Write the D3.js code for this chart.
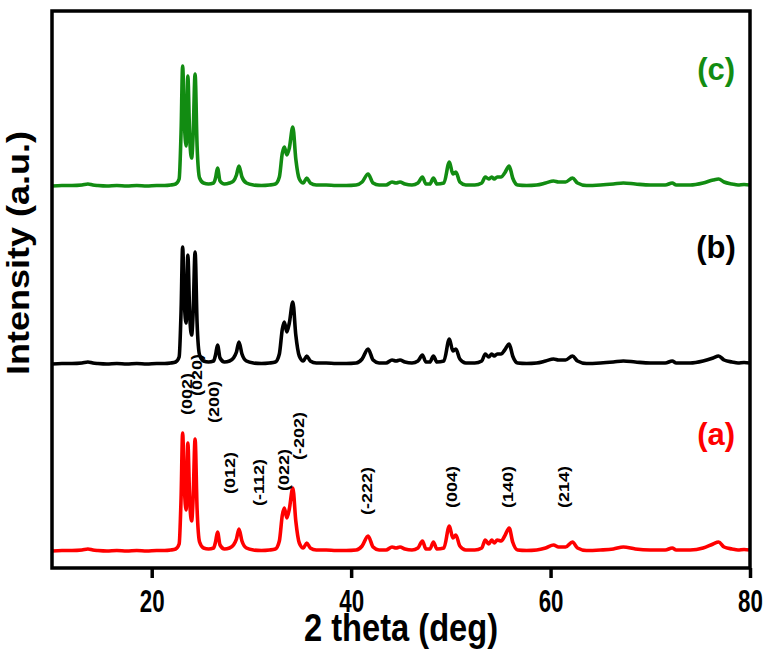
<!DOCTYPE html>
<html>
<head>
<meta charset="utf-8">
<script src="https://cdn.jsdelivr.net/npm/d3@7"></script>
<style>
  body { margin: 0; background: #fff; }
  text { font-family: "Liberation Sans", Arial, sans-serif; font-weight: bold; }
</style>
</head>
<body>
<div id="chart"></div>
<script>
// 2 theta positions (deg), shared by the three patterns
var twoTheta = [10, 11, 12, 13, 13.6, 14.1, 14.6, 15.5, 16.5, 17.5,
  18.5, 19.5, 20.5, 21.3, 21.9, 22.4, 22.75, 22.95, 23.1, 23.28,
  23.45, 23.62, 23.82, 24.0, 24.15, 24.35, 24.55, 24.8, 25.2, 25.7,
  26.2, 26.4, 26.6, 26.85, 27.3, 27.8, 28.2, 28.5, 28.75, 29.05,
  29.5, 30.2, 31, 31.8, 32.4, 32.8, 33.1, 33.3, 33.55, 33.8,
  34.15, 34.45, 34.8, 35.2, 35.55, 35.9, 36.5, 37.5, 38.5, 39.5,
  40.5, 41.1, 41.7, 42.2, 42.8, 43.5, 44.1, 44.5, 44.9, 45.4,
  46.1, 46.7, 47.15, 47.5, 47.9, 48.25, 48.6, 49.3, 49.85, 50.2,
  50.5, 50.9, 51.5, 52.4, 53.1, 53.45, 53.8, 54.1, 54.35, 54.65,
  55.05, 55.4, 55.85, 56.2, 56.7, 57.6, 58.6, 59.5, 60.3, 60.8,
  61.5, 62.2, 62.7, 63.6, 65, 66.3, 67.3, 68.5, 70, 71.5,
  72.2, 72.6, 74, 75.3, 76.3, 76.85, 77.4, 78.2, 78.8, 79.4, 80];

// intensities (a.u.) above each pattern's own baseline
var intensityA = [0, 0.5, 0.5, 1, 2, 1, 0.5, 0, 0.5, 0,
  0.5, 0, 0.5, 0.5, 1, 2, 7, 55, 118, 62,
  41, 108, 48, 30, 52, 112, 42, 9, 3, 2,
  3, 9, 19, 6, 2, 3, 6, 12, 22, 10,
  3, 1, 0.5, 1, 2, 10, 36, 43, 33, 42,
  63, 30, 8, 3, 8, 3, 1, 1, 0.5, 0.5,
  1, 5, 15, 4, 1, 1, 4, 3, 4, 2,
  1, 3, 10, 2, 2, 9, 2, 3, 25, 13,
  16, 5, 1, 1, 3, 11, 7, 11, 8, 11,
  10, 15, 23, 9, 1, 0.5, 1, 3, 6, 4,
  4, 9, 3, 0.5, 1, 2, 4, 2, 1, 1,
  3, 1, 1, 3, 7, 9, 4, 2, 1, 1.5, 1];

var intensityB = [0, 0.5, 0.5, 1, 2, 1, 0.5, 0, 0.5, 0,
  0.5, 0, 0.5, 0.5, 1, 2, 7, 55, 117, 60,
  41, 109, 47, 29, 50, 112, 41, 9, 3, 2,
  3, 9, 19, 6, 2, 3, 6, 12, 22, 10,
  3, 1, 0.5, 1, 2, 10, 35, 42, 32, 41,
  62, 29, 8, 3, 8, 3, 1, 1, 0.5, 0.5,
  1, 5, 15, 4, 1, 1, 4, 3, 4, 2,
  1, 3, 9, 2, 2, 8, 2, 3, 25, 13,
  15, 5, 1, 1, 3, 10, 7, 10, 8, 10,
  10, 14, 20, 8, 1, 0.5, 1, 3, 5, 4,
  4, 8, 3, 0.5, 1, 2, 3, 2, 1, 1,
  3, 1, 1, 3, 6, 8, 4, 2, 1, 1.5, 1];

var intensityC = [0, 0.5, 0.5, 1, 2, 1, 0.5, 0, 0.5, 0,
  0.5, 0, 0.5, 0.5, 1, 2, 7, 56, 120, 62,
  40, 110, 46, 28, 50, 112, 40, 8, 3, 2,
  3, 8, 18, 5, 2, 3, 5, 11, 20, 9,
  3, 1, 0.5, 1, 2, 9, 33, 39, 31, 38,
  59, 27, 7, 3, 8, 3, 1, 1, 0.5, 0.5,
  1, 4, 12, 3, 1, 1, 4, 3, 4, 2,
  1, 3, 9, 2, 2, 8, 2, 3, 24, 12,
  14, 4, 1, 1, 3, 9, 7, 9, 7, 9,
  9, 13, 20, 8, 1, 0.5, 1, 3, 5, 4,
  4, 8, 3, 0.5, 1, 2, 3, 2, 1, 1,
  3, 1, 1, 3, 6, 7, 4, 2, 1, 1.5, 1];

var seriesNames = ["(a)", "(b)", "(c)"];
var seriesOffsets = [17, 204, 382];   // vertical stacking offset (a.u.)
var seriesColors = ["#ff0000", "#000000", "#128c12"];

// Miller indices marked on pattern (a)
var hklLabels = ["(002)", "(020)", "(200)", "(012)", "(-112)", "(022)", "(-202)", "(-222)", "(004)", "(140)", "(214)"];
var hklTheta = [23.5, 24.5, 26.2, 27.8, 30.7, 33.2, 34.8, 41.6, 50.1, 55.7, 61.3];
var hklLevel = [136, 155, 128, 57, 45, 60, 91, 36, 43, 43, 43];

var xTicks = [20, 40, 60, 80];

// set the dimensions and margins of the graph
var margin = {top: 11, right: 17, bottom: 83, left: 52},
    width = 767 - margin.left - margin.right,
    height = 651 - margin.top - margin.bottom;

var svg = d3.select("#chart")
  .append("svg")
    .attr("width", width + margin.left + margin.right)
    .attr("height", height + margin.top + margin.bottom)
  .append("g")
    .attr("transform", "translate(" + margin.left + "," + margin.top + ")");

var x = d3.scaleLinear().domain([10, 80]).range([0, width]);
var y = d3.scaleLinear().domain([0, height]).range([height, 0]);

// squashed text, like the original figure
function place(sel, px, py, sx, rot) {
  sel.attr("transform", "translate(" + px + "," + py + ") scale(" + sx + ",1)" + (rot ? " rotate(-90)" : ""));
}

// patterns
var series = [intensityA, intensityB, intensityC];
series.forEach(function(vals, i) {
  var line = d3.line()
    .x(function(d, j) { return x(twoTheta[j]); })
    .y(function(d) { return y(d + seriesOffsets[i]); })
    .curve(d3.curveMonotoneX);
  svg.append("path")
    .datum(vals)
    .attr("fill", "none")
    .attr("stroke", seriesColors[i])
    .attr("stroke-width", 3.6)
    .attr("stroke-linejoin", "round")
    .attr("d", line);

  svg.append("text")
    .attr("fill", seriesColors[i])
    .attr("font-size", "31px")
    .attr("text-anchor", "middle")
    .call(place, x(76.6), y(seriesOffsets[i] + 106), 1, false)
    .text(seriesNames[i]);
});

// hkl labels
hklLabels.forEach(function(lab, i) {
  svg.append("text")
    .attr("font-size", "18px")
    .attr("fill", "#000")
    .attr("dy", "0.35em")
    .call(place, x(hklTheta[i]), y(hklLevel[i] + seriesOffsets[0]), 0.82, true)
    .text(lab);
});

// X axis
var xAxis = svg.append("g")
  .attr("transform", "translate(0," + height + ")")
  .call(d3.axisBottom(x).tickValues(xTicks).tickSize(10).tickFormat(d3.format("d")));
xAxis.select(".domain").remove();
xAxis.selectAll("line").attr("stroke", "#000").attr("stroke-width", 3.5);
xAxis.selectAll("text")
  .attr("font-size", "31px")
  .attr("fill", "#000")
  .attr("y", 0).attr("dy", 0)
  .each(function() {
    d3.select(this).call(place, 0, 44, 0.72, false);
  });

// frame
svg.append("rect")
  .attr("x", 0).attr("y", 0)
  .attr("width", width).attr("height", height)
  .attr("fill", "none")
  .attr("stroke", "#000")
  .attr("stroke-width", 3.5);

// axis titles
svg.append("text")
  .attr("text-anchor", "middle")
  .attr("font-size", "38px")
  .call(place, x(45), height + 73, 0.86, false)
  .text("2 theta (deg)");

svg.append("text")
  .attr("text-anchor", "middle")
  .attr("font-size", "36px")
  .attr("dy", "0.35em")
  .call(place, -34, 242, 0.85, true)
  .text("Intensity (a.u.)");
</script>
</body>
</html>
